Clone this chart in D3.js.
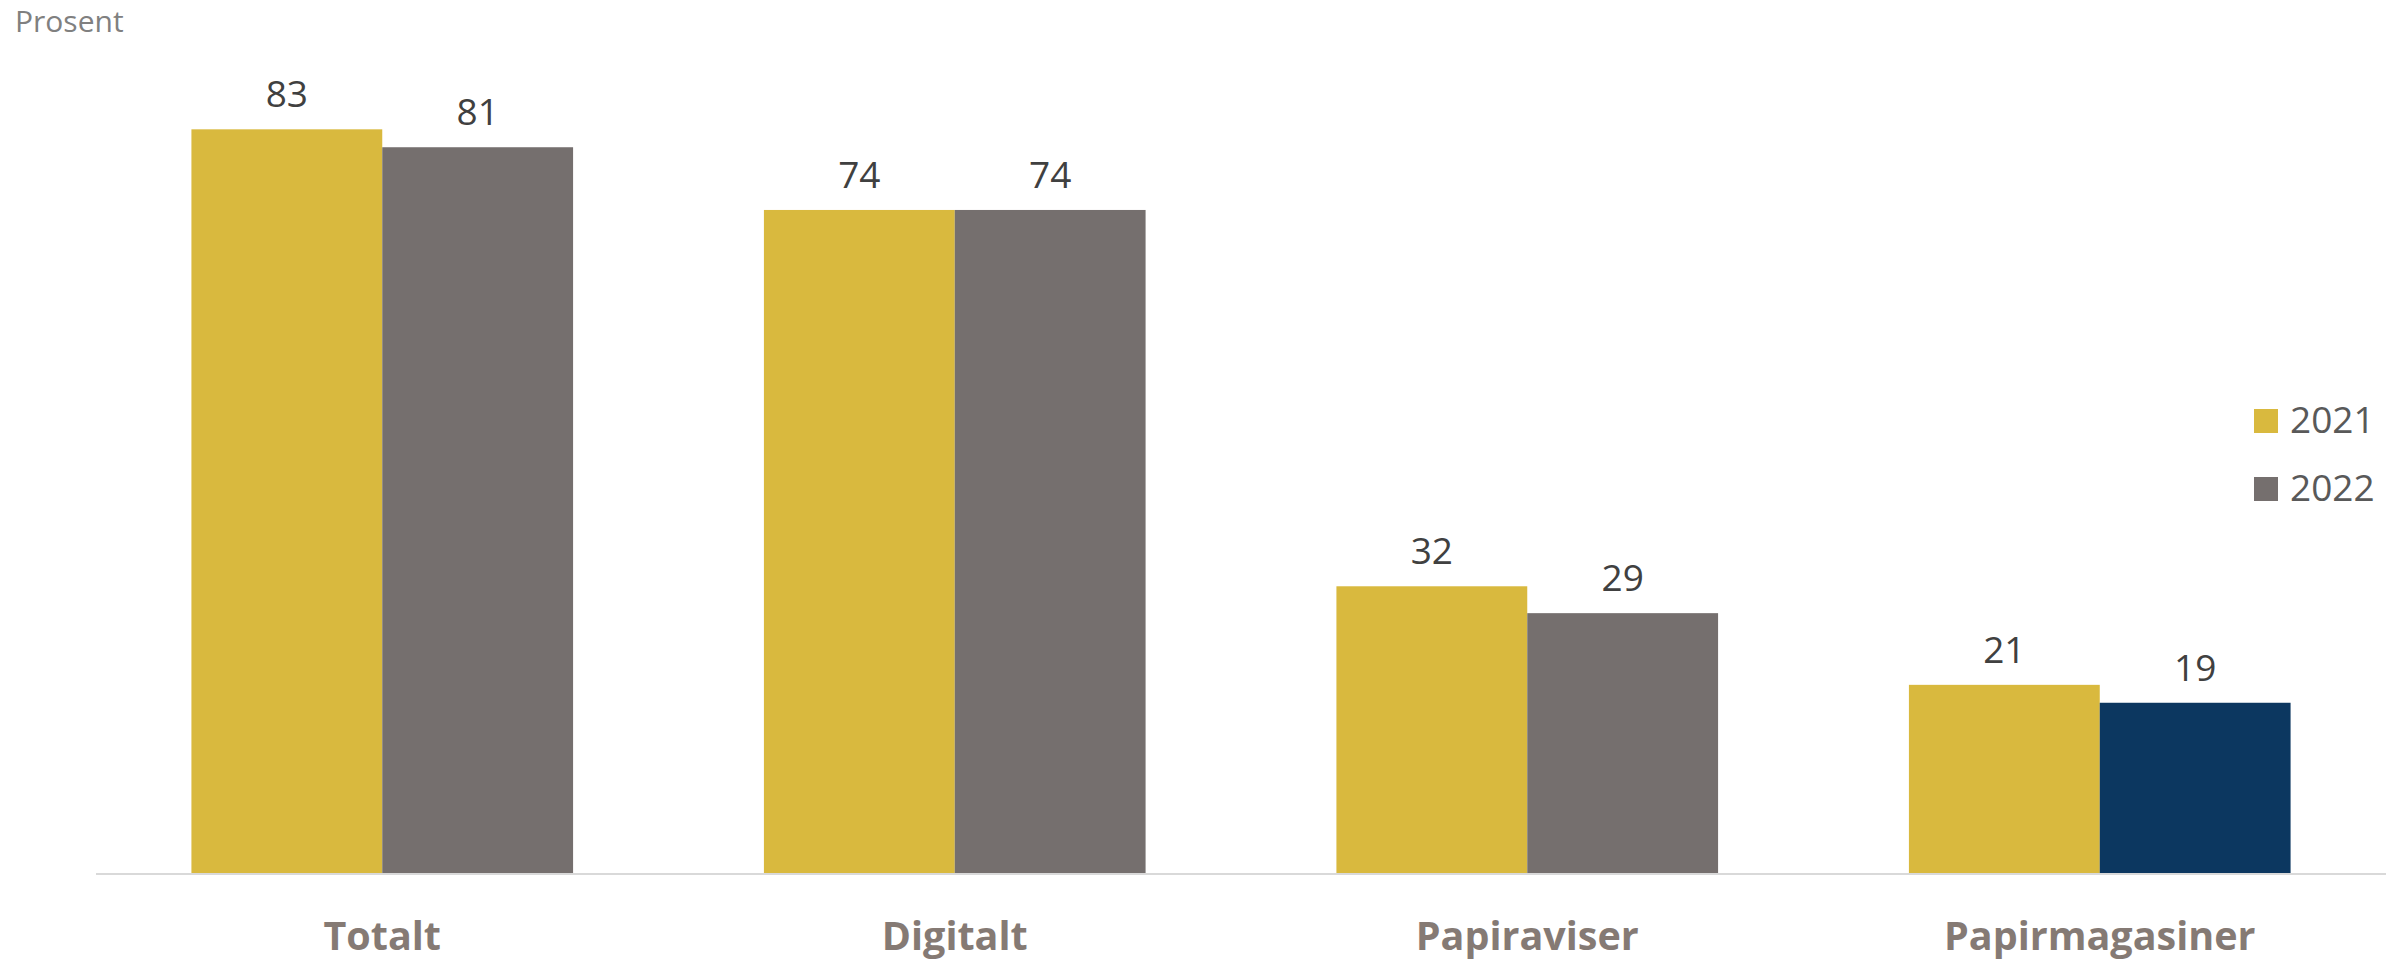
<!DOCTYPE html>
<html>
<head>
<meta charset="utf-8">
<script src="https://cdn.jsdelivr.net/npm/d3@7.9.0/dist/d3.min.js"></script>
<style>
  html, body { margin: 0; padding: 0; background: #fff; }
  svg { display: block; font-family: 'Open Sans', sans-serif; }
</style>
</head>
<body>
<svg id="chart" width="2405" height="963"></svg>
<script>
const categories = ['Totalt', 'Digitalt', 'Papiraviser', 'Papirmagasiner'];
const years = ['2021', '2022'];
const values2021 = [83, 74, 32, 21];
const values2022 = [81, 74, 29, 19];
const highlight2022 = [false, false, false, true];

const colors = { '2021': '#d9b93e', '2022': '#756f6e' };
const highlightColor = '#0c3760';

const svg = d3.select('#chart');
const baseline = 873;

const x = d3.scaleBand().domain(categories).range([96, 2386]).paddingInner(1 / 3).paddingOuter(1 / 6);
const xInner = d3.scaleBand().domain(years).range([0, x.bandwidth()]);
const y = d3.scaleLinear().domain([0, 100]).range([baseline, baseline - 896]);

const rows = categories.map((c, i) => ({
  cat: c,
  bars: [
    { year: '2021', value: values2021[i], fill: colors['2021'] },
    { year: '2022', value: values2022[i], fill: highlight2022[i] ? highlightColor : colors['2022'] }
  ]
}));

svg.append('text')
  .attr('x', 15).attr('y', 32)
  .attr('font-size', 30).attr('fill', '#808080')
  .text('Prosent');

const groups = svg.selectAll('g.group').data(rows).join('g')
  .attr('class', 'group')
  .attr('transform', (d) => `translate(${x(d.cat)},0)`);

groups.selectAll('rect').data((d) => d.bars).join('rect')
  .attr('x', (d) => xInner(d.year))
  .attr('width', xInner.bandwidth())
  .attr('y', (d) => y(d.value))
  .attr('height', (d) => baseline - y(d.value))
  .attr('fill', (d) => d.fill);

groups.selectAll('text.val').data((d) => d.bars).join('text')
  .attr('class', 'val')
  .attr('x', (d) => xInner(d.year) + xInner.bandwidth() / 2)
  .attr('y', (d) => y(d.value) - 22)
  .attr('text-anchor', 'middle')
  .attr('font-size', 37).attr('fill', '#404040')
  .text((d) => d.value);

// axis line
svg.append('line')
  .attr('x1', 96).attr('x2', 2386)
  .attr('y1', baseline + 1).attr('y2', baseline + 1)
  .attr('stroke', '#d9d9d9').attr('stroke-width', 2);

svg.selectAll('text.cat').data(categories).join('text')
  .attr('class', 'cat')
  .attr('x', (d) => x(d) + x.bandwidth() / 2)
  .attr('y', 950)
  .attr('text-anchor', 'middle')
  .attr('font-size', 39.5).attr('font-weight', 'bold').attr('fill', '#857a74')
  .text((d) => d);

// legend
const legend = svg.selectAll('g.legend').data(years).join('g')
  .attr('class', 'legend')
  .attr('transform', (d, i) => `translate(2254,${409 + i * 68})`);

legend.append('rect')
  .attr('width', 24).attr('height', 24)
  .attr('fill', (d) => colors[d]);

legend.append('text')
  .attr('x', 36).attr('y', 24)
  .attr('font-size', 37).attr('fill', '#595959')
  .text((d) => d);
</script>
</body>
</html>
